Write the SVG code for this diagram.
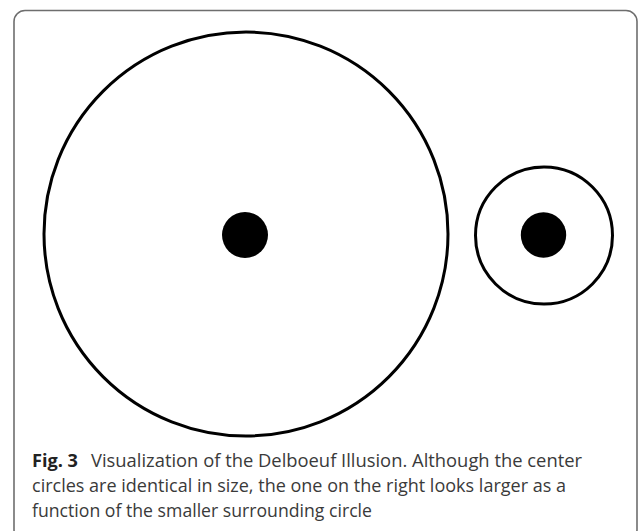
<svg xmlns="http://www.w3.org/2000/svg" width="638" height="531" viewBox="0 0 638 531">
<style>
.ring{fill:none;stroke:#000;stroke-width:3}
.dot{fill:#000}
.cap{font-family:"Open Sans","Liberation Sans",sans-serif;font-size:18px;fill:#3a3a3a}
.b{font-weight:bold;fill:#222}
</style>
<rect x="0" y="0" width="638" height="531" fill="#fff"/>
<rect x="14" y="10.5" width="623" height="530" rx="11" fill="none" stroke="#6e6e6e" stroke-width="1.6"/>
<g id="large">
<circle class="ring" cx="246" cy="234" r="202"/>
<circle class="dot" cx="245" cy="235" r="23"/>
</g>
<g id="small">
<circle class="ring" cx="544" cy="235.5" r="68.5"/>
<circle class="dot" cx="543.5" cy="235" r="22.7"/>
</g>
<g id="connectors"/>
<g id="caption">
<text class="cap b" x="32" y="466.5" textLength="46" lengthAdjust="spacingAndGlyphs">Fig. 3</text>
<text class="cap" x="91" y="466.5" textLength="491" lengthAdjust="spacingAndGlyphs">Visualization of the Delboeuf Illusion. Although the center</text>
<text class="cap" x="32" y="491.5" textLength="534" lengthAdjust="spacingAndGlyphs">circles are identical in size, the one on the right looks larger as a</text>
<text class="cap" x="32" y="516.5" textLength="340" lengthAdjust="spacingAndGlyphs">function of the smaller surrounding circle</text>
</g>
</svg>
